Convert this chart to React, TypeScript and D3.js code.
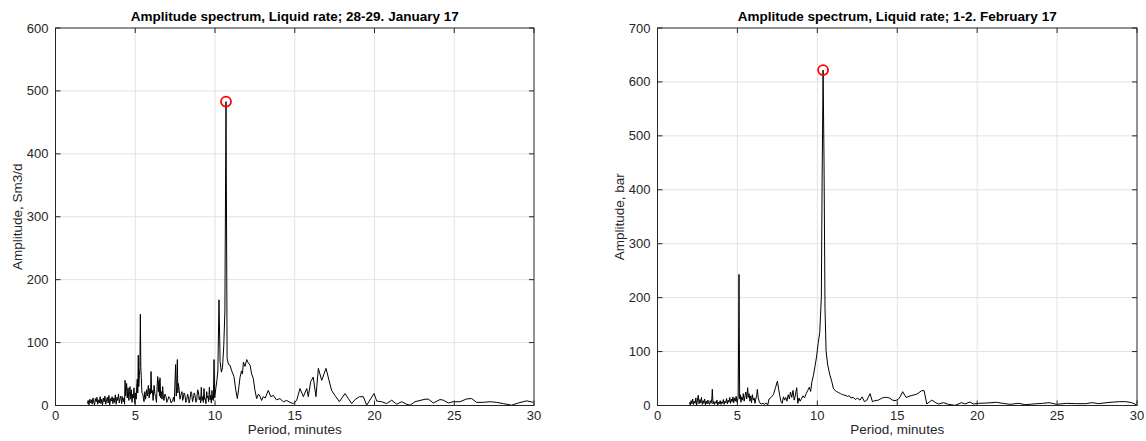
import React from "react";
import * as d3 from "d3";

// ---- DATA (period in minutes, amplitude) ----
const leftTitle = "Amplitude spectrum, Liquid rate; 28-29. January 17";
const rightTitle = "Amplitude spectrum, Liquid rate; 1-2. February 17";
const leftYLabel = "Amplitude, Sm3/d";
const rightYLabel = "Amplitude, bar";
const xLabel = "Period, minutes";

const xTicks = [0, 5, 10, 15, 20, 25, 30];
const leftYTicks = [0, 100, 200, 300, 400, 500, 600];
const rightYTicks = [0, 100, 200, 300, 400, 500, 600, 700];

const leftSpectrum: [number, number][] = [
  [2.0, 3], [2.05, 8], [2.1, 1], [2.15, 10], [2.2, 4], [2.25, 9], [2.3, 2], [2.35, 12], [2.4, 5], [2.45, 1],
  [2.5, 11], [2.55, 6], [2.6, 13], [2.65, 2], [2.7, 9], [2.75, 4], [2.8, 14], [2.85, 3], [2.9, 10], [2.95, 1],
  [3.0, 12], [3.05, 6], [3.1, 15], [3.15, 2], [3.2, 9], [3.25, 13], [3.3, 4], [3.35, 16], [3.4, 1], [3.45, 11],
  [3.5, 7], [3.55, 14], [3.6, 3], [3.65, 12], [3.7, 5], [3.75, 17], [3.8, 2], [3.85, 13], [3.9, 8], [3.95, 18],
  [4.0, 4], [4.05, 11], [4.1, 15], [4.15, 3], [4.2, 14], [4.25, 6], [4.3, 12], [4.33, 2],
  [4.36, 40], [4.4, 15], [4.46, 35], [4.5, 12], [4.55, 28], [4.6, 8], [4.64, 22], [4.67, 30], [4.72, 10],
  [4.76, 25], [4.8, 5], [4.84, 18], [4.88, 12], [4.92, 28], [4.96, 6], [4.98, 3], [5.02, 20], [5.06, 10],
  [5.1, 35], [5.13, 42], [5.16, 20], [5.19, 80], [5.22, 30], [5.26, 48], [5.29, 60], [5.32, 145], [5.35, 60],
  [5.38, 44], [5.42, 20], [5.47, 19], [5.51, 12], [5.55, 6],
  [5.6, 22], [5.65, 10], [5.71, 25], [5.76, 15], [5.82, 32], [5.87, 12], [5.92, 27], [5.96, 18], [5.99, 54],
  [6.03, 20], [6.07, 24], [6.12, 8], [6.18, 32], [6.23, 18], [6.28, 14], [6.33, 5], [6.37, 30], [6.41, 46],
  [6.45, 22], [6.49, 40], [6.52, 15], [6.55, 44], [6.6, 12], [6.64, 22], [6.68, 10], [6.72, 30], [6.76, 15],
  [6.8, 8], [6.86, 18], [6.93, 14], [6.98, 5], [7.03, 8], [7.1, 14], [7.18, 11], [7.25, 4], [7.35, 8],
  [7.4, 13], [7.45, 6], [7.53, 65], [7.57, 15], [7.6, 30], [7.64, 73], [7.67, 20], [7.7, 35], [7.76, 24],
  [7.8, 10], [7.85, 16], [7.93, 22], [7.97, 8], [8.01, 11], [8.06, 20], [8.12, 16], [8.17, 5], [8.22, 8],
  [8.28, 18], [8.33, 14], [8.38, 4], [8.43, 10], [8.49, 22], [8.54, 19], [8.59, 6], [8.64, 11], [8.7, 20],
  [8.75, 16], [8.8, 5], [8.85, 8], [8.91, 25], [8.96, 22], [9.01, 9], [9.06, 14], [9.1, 4], [9.14, 29],
  [9.18, 8], [9.23, 14], [9.27, 5], [9.31, 27], [9.35, 10], [9.39, 11], [9.43, 3], [9.48, 22], [9.52, 12],
  [9.56, 15], [9.6, 6], [9.65, 29], [9.69, 9], [9.73, 16], [9.77, 4], [9.81, 24], [9.85, 10], [9.9, 8],
  [9.94, 73], [9.98, 12], [10.06, 29], [10.12, 40], [10.18, 55], [10.25, 168], [10.32, 70], [10.4, 53],
  [10.47, 60], [10.55, 95], [10.62, 150], [10.69, 483], [10.76, 75], [10.85, 65], [10.94, 64], [11.05, 55],
  [11.19, 46], [11.3, 25], [11.4, 11], [11.5, 30], [11.57, 45], [11.66, 55], [11.72, 50], [11.78, 69],
  [11.88, 62], [11.99, 73], [12.08, 68], [12.2, 64], [12.3, 50], [12.4, 43], [12.5, 25], [12.61, 11],
  [12.72, 18], [12.82, 15], [12.92, 8], [13.03, 14], [13.15, 12], [13.34, 24], [13.5, 14], [13.66, 16],
  [13.85, 9], [14.07, 11], [14.28, 6], [14.49, 8], [14.7, 5], [14.91, 3], [15.12, 8], [15.33, 27],
  [15.54, 14], [15.75, 27], [15.85, 14], [16.0, 38], [16.16, 45], [16.33, 14], [16.48, 59], [16.69, 40],
  [16.96, 59], [17.31, 24], [17.52, 16], [17.8, 6], [18.15, 19], [18.57, 3], [18.78, 9.5], [19.05, 14],
  [19.3, 14], [19.51, 0.5], [19.97, 19], [20.14, 7], [20.45, 6], [20.76, 3], [21.08, 8.4], [21.39, 2],
  [21.7, 6], [22.02, 2], [22.23, 0.5], [22.54, 6], [23.17, 10], [23.38, 10], [23.69, 4], [24.11, 9.5],
  [24.32, 8.4], [24.63, 4], [24.94, 6], [25.36, 6], [25.78, 10.5], [26.09, 11], [26.4, 5], [26.82, 5],
  [27.24, 6], [27.66, 5], [28.08, 3], [28.6, 0.5], [29.02, 4], [29.54, 7.4], [29.96, 5],
];

const rightSpectrum: [number, number][] = [
  [2.0, 6], [2.05, 1], [2.1, 9], [2.15, 3], [2.2, 12], [2.25, 2], [2.3, 8], [2.35, 4], [2.4, 14], [2.45, 1],
  [2.5, 10], [2.55, 19], [2.6, 3], [2.65, 11], [2.7, 5], [2.75, 15], [2.8, 2], [2.85, 9], [2.9, 4], [2.95, 12],
  [3.0, 1], [3.05, 8], [3.1, 3], [3.15, 10], [3.2, 5], [3.25, 2], [3.3, 9], [3.35, 4], [3.4, 12], [3.43, 30],
  [3.47, 3], [3.52, 8], [3.57, 2], [3.62, 7], [3.67, 4], [3.72, 10], [3.77, 1], [3.82, 6], [3.87, 3], [3.92, 9],
  [3.97, 2], [4.02, 7], [4.07, 4], [4.12, 11], [4.17, 2], [4.22, 8], [4.27, 5], [4.32, 13], [4.37, 3], [4.42, 10],
  [4.47, 6], [4.52, 15], [4.57, 4], [4.62, 12], [4.67, 7], [4.72, 16], [4.77, 5], [4.82, 14], [4.87, 8], [4.92, 17],
  [4.97, 6], [5.0, 8], [5.05, 15], [5.1, 243], [5.14, 12], [5.18, 20], [5.22, 6], [5.27, 16], [5.32, 10],
  [5.37, 22], [5.42, 8], [5.48, 18], [5.53, 25], [5.58, 12], [5.64, 33], [5.68, 15], [5.73, 22], [5.78, 8],
  [5.84, 18], [5.88, 5], [5.94, 20], [5.99, 10], [6.05, 14], [6.1, 4], [6.15, 12], [6.2, 18], [6.25, 30],
  [6.3, 14], [6.36, 8], [6.42, 4], [6.5, 3], [6.6, 4], [6.7, 2], [6.8, 5], [6.9, 1], [6.98, 12], [7.1, 15],
  [7.25, 20], [7.38, 33], [7.5, 45], [7.58, 30], [7.65, 18], [7.73, 7], [7.8, 4], [7.88, 16], [7.95, 10],
  [8.02, 15], [8.1, 8], [8.18, 20], [8.25, 12], [8.32, 25], [8.4, 15], [8.48, 28], [8.55, 10], [8.62, 18],
  [8.71, 33], [8.78, 4], [8.85, 14], [8.92, 8], [9.0, 12], [9.1, 18], [9.2, 14], [9.3, 22], [9.4, 28],
  [9.5, 34], [9.58, 26], [9.66, 44], [9.75, 55], [9.85, 72], [9.95, 90], [10.05, 115], [10.15, 135],
  [10.25, 200], [10.3, 420], [10.36, 622], [10.42, 450], [10.48, 180], [10.55, 100], [10.65, 75], [10.79, 56],
  [10.9, 45], [11.0, 32], [11.1, 28], [11.2, 26], [11.32, 24], [11.45, 22], [11.58, 20], [11.73, 19],
  [11.88, 17], [12.0, 18], [12.1, 14], [12.25, 15], [12.4, 11], [12.5, 14], [12.67, 10], [12.8, 16],
  [12.95, 7], [13.1, 10], [13.3, 22], [13.45, 7], [13.6, 9], [13.82, 10], [14.0, 13], [14.15, 15],
  [14.34, 15], [14.5, 14], [14.7, 10], [14.86, 9], [15.05, 11], [15.18, 16], [15.34, 25.6], [15.55, 15],
  [15.8, 17.6], [16.22, 21], [16.53, 27.5], [16.68, 27.5], [16.85, 2.8], [17.16, 10], [17.37, 5.9],
  [17.58, 2.8], [17.89, 5.3], [18.2, 2.2], [18.62, 0.3], [19.03, 5.3], [19.24, 2.8], [19.55, 6.5],
  [19.76, 2.8], [20.08, 4], [20.6, 4.6], [21.2, 5.9], [21.6, 4], [22.06, 2.2], [22.6, 4], [23.0, 1.5],
  [23.5, 2.8], [24.1, 4], [24.5, 5.3], [24.98, 2.2], [25.6, 4], [26.2, 3.4], [26.8, 3.4], [27.2, 5.3],
  [27.6, 3.4], [28.31, 5.9], [28.9, 7.1], [29.3, 7.1], [29.67, 5.3], [29.95, 1.5],
];

const leftPeak: [number, number] = [10.69, 483];
const rightPeak: [number, number] = [10.36, 622];

const FONT = "'Liberation Sans', Arial, Helvetica, sans-serif";
const AXIS = "#262626";
const GRID = "#e3e3e3";

type PanelProps = {
  x0: number;
  x1: number;
  y0: number;
  y1: number;
  yMax: number;
  yTicks: number[];
  data: [number, number][];
  peak: [number, number];
  title: string;
  yLabel: string;
  yLabelX: number;
};

function Panel(p: PanelProps) {
  const x = d3.scaleLinear().domain([0, 30]).range([p.x0, p.x1]);
  const y = d3.scaleLinear().domain([0, p.yMax]).range([p.y1, p.y0]);
  const line = d3
    .line<[number, number]>()
    .x((d) => x(d[0]))
    .y((d) => y(d[1]));
  const tl = 5;
  return (
    <g>
      {/* grid */}
      {xTicks.slice(1, -1).map((t) => (
        <line key={"gx" + t} x1={x(t)} x2={x(t)} y1={p.y0} y2={p.y1} stroke={GRID} strokeWidth={1} />
      ))}
      {p.yTicks.slice(1, -1).map((t) => (
        <line key={"gy" + t} x1={p.x0} x2={p.x1} y1={y(t)} y2={y(t)} stroke={GRID} strokeWidth={1} />
      ))}
      {/* data line */}
      <path d={line(p.data) || ""} fill="none" stroke="#000" strokeWidth={1} strokeLinejoin="round" />
      {/* peak marker */}
      <circle cx={x(p.peak[0])} cy={y(p.peak[1])} r={5} fill="none" stroke="#ff0000" strokeWidth={1.8} />
      {/* box */}
      <rect x={p.x0} y={p.y0} width={p.x1 - p.x0} height={p.y1 - p.y0} fill="none" stroke={AXIS} strokeWidth={1} />
      {/* ticks */}
      {xTicks.map((t) => (
        <g key={"tx" + t}>
          <line x1={x(t)} x2={x(t)} y1={p.y1} y2={p.y1 - tl} stroke={AXIS} />
          <line x1={x(t)} x2={x(t)} y1={p.y0} y2={p.y0 + tl} stroke={AXIS} />
          <text x={x(t)} y={p.y1 + 14} textAnchor="middle" fontSize={13} fontFamily={FONT} fill={AXIS}>
            {t}
          </text>
        </g>
      ))}
      {p.yTicks.map((t) => (
        <g key={"ty" + t}>
          <line x1={p.x0} x2={p.x0 + tl} y1={y(t)} y2={y(t)} stroke={AXIS} />
          <line x1={p.x1} x2={p.x1 - tl} y1={y(t)} y2={y(t)} stroke={AXIS} />
          <text x={p.x0 - 7} y={y(t) + 4.5} textAnchor="end" fontSize={13} fontFamily={FONT} fill={AXIS}>
            {t}
          </text>
        </g>
      ))}
      {/* labels */}
      <text
        x={(p.x0 + p.x1) / 2}
        y={p.y1 + 28}
        textAnchor="middle"
        fontSize={13.5}
        fontFamily={FONT}
        fill={AXIS}
      >
        {xLabel}
      </text>
      <text
        transform={`translate(${p.yLabelX},${(p.y0 + p.y1) / 2}) rotate(-90)`}
        textAnchor="middle"
        fontSize={13.5}
        fontFamily={FONT}
        fill={AXIS}
      >
        {p.yLabel}
      </text>
      <text
        x={(p.x0 + p.x1) / 2}
        y={p.y0 - 7}
        textAnchor="middle"
        fontSize={13.5}
        fontWeight="bold"
        fontFamily={FONT}
        fill="#000"
      >
        {p.title}
      </text>
    </g>
  );
}

export default function App() {
  return (
    <svg
      width={1146}
      height={441}
      style={{ position: "absolute", left: 0, top: 0, background: "#fff" }}
    >
      <rect x={0} y={0} width={1146} height={441} fill="#fff" />
      <Panel
        x0={55.5}
        x1={534}
        y0={28}
        y1={405.5}
        yMax={600}
        yTicks={leftYTicks}
        data={leftSpectrum}
        peak={leftPeak}
        title={leftTitle}
        yLabel={leftYLabel}
        yLabelX={22}
      />
      <Panel
        x0={657.5}
        x1={1137}
        y0={28}
        y1={405.5}
        yMax={700}
        yTicks={rightYTicks}
        data={rightSpectrum}
        peak={rightPeak}
        title={rightTitle}
        yLabel={rightYLabel}
        yLabelX={624}
      />
    </svg>
  );
}
